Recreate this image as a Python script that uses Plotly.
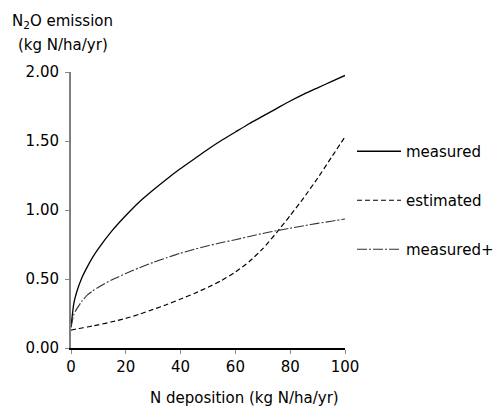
import plotly.graph_objects as go

deposition = [0, 1, 2, 4, 6, 8, 10, 15, 20, 25, 30, 35, 40, 45, 50, 55, 60, 65, 70, 75, 80, 85, 90, 95, 100]
measured = [0.15, 0.32, 0.40, 0.51, 0.59, 0.66, 0.72, 0.85, 0.96, 1.06, 1.145, 1.225, 1.30, 1.37, 1.44, 1.505,
            1.565, 1.625, 1.68, 1.735, 1.79, 1.84, 1.885, 1.93, 1.975]
estimated = [0.13, 0.134, 0.138, 0.145, 0.152, 0.16, 0.168, 0.19, 0.215, 0.245, 0.28, 0.315, 0.355, 0.395, 0.44,
             0.49, 0.55, 0.625, 0.72, 0.835, 0.96, 1.09, 1.23, 1.38, 1.53]
measured_plus = [0.15, 0.24, 0.28, 0.34, 0.385, 0.415, 0.44, 0.495, 0.54, 0.582, 0.62, 0.655, 0.687, 0.716, 0.741,
                 0.764, 0.785, 0.808, 0.83, 0.85, 0.868, 0.886, 0.903, 0.919, 0.935]
y_ticks = [0, 0.5, 1.0, 1.5, 2.0]
x_ticks = [0, 20, 40, 60, 80, 100]

FONT = "DejaVu Sans"

fig = go.Figure()
fig.add_trace(go.Scatter(x=deposition, y=measured, name="measured", mode="lines", legendgroup="a",
                         line=dict(color="black", width=1.3, shape="spline", smoothing=0.5)))
fig.add_trace(go.Scatter(x=deposition, y=estimated, name="estimated", mode="lines", legendgroup="b",
                         line=dict(color="black", width=1.2, dash="5px,3px", shape="spline", smoothing=0.5)))
fig.add_trace(go.Scatter(x=deposition, y=measured_plus, name="measured+", mode="lines", legendgroup="c",
                         line=dict(color="#333333", width=1.1, dash="10px,2px,2px,2px", shape="spline", smoothing=0.5)))

fig.update_layout(
    width=496, height=412,
    margin=dict(l=71, r=151, t=72, b=64, autoexpand=False),
    paper_bgcolor="white", plot_bgcolor="white",
    font=dict(family=FONT, size=15, color="black"),
    showlegend=True,
    legend=dict(x=(352 - 71) / 274, y=(348 - 135) / 276, xanchor="left", yanchor="top",
                font=dict(family=FONT, size=15, color="black"),
                tracegroupgap=26.5, itemwidth=44, bgcolor="rgba(0,0,0,0)"),
    xaxis=dict(range=[0, 100], tickvals=x_ticks, showgrid=False, zeroline=False,
               showline=True, linecolor="black", linewidth=1.5,
               ticks="outside", ticklen=4, tickcolor="#888888", tickwidth=1,
               tickfont=dict(family=FONT, size=15, color="black")),
    yaxis=dict(range=[0, 2], tickvals=y_ticks, tickformat=".2f", showgrid=False, zeroline=False,
               showline=True, linecolor="#808080", linewidth=2,
               ticks="outside", ticklen=4, tickcolor="#888888", tickwidth=1, ticklabelstandoff=3,
               tickfont=dict(family=FONT, size=15, color="black")),
    annotations=[
        dict(text="N<sub>2</sub>O emission", xref="paper", yref="paper", x=(10 - 71) / 274, y=(348 - 21) / 276,
             xanchor="left", yanchor="middle", showarrow=False, font=dict(family=FONT, size=15)),
        dict(text="(kg N/ha/yr)", xref="paper", yref="paper", x=(16 - 71) / 274, y=(348 - 45) / 276,
             xanchor="left", yanchor="middle", showarrow=False, font=dict(family=FONT, size=15)),
        dict(text="N deposition (kg N/ha/yr)", xref="paper", yref="paper", x=(244 - 71) / 274, y=(348 - 398) / 276,
             xanchor="center", yanchor="middle", showarrow=False, font=dict(family=FONT, size=15)),
    ],
)

fig.write_html("out.html")
